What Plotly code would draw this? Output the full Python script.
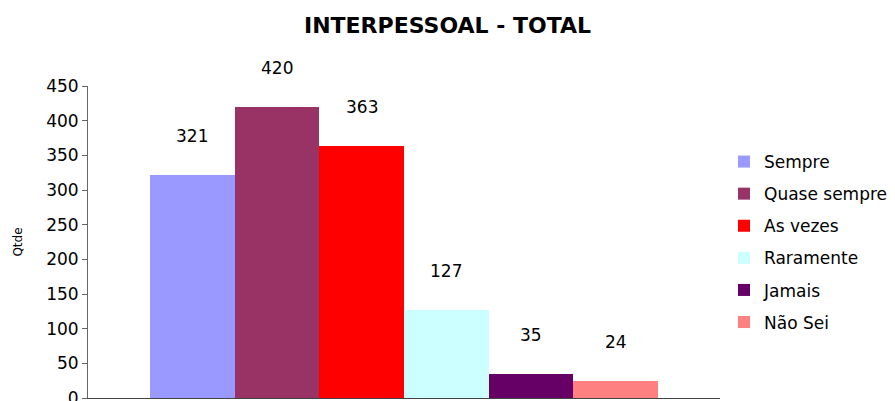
import plotly.graph_objects as go

categories = ["Sempre", "Quase sempre", "As vezes", "Raramente", "Jamais", "Não Sei"]
values = [321, 420, 363, 127, 35, 24]
colors = ["#9999FF", "#993366", "#FF0000", "#CCFFFF", "#660066", "#FF8080"]
title_text = "INTERPESSOAL - TOTAL"
y_title = "Qtde"
y_ticks = [0, 50, 100, 150, 200, 250, 300, 350, 400, 450]

FONT = "DejaVu Sans, Liberation Sans, Arial, sans-serif"

fig = go.Figure()
for i, (name, v, c) in enumerate(zip(categories, values, colors)):
    fig.add_trace(go.Bar(
        x=[i], y=[v], width=[1], name=name, legendgroup=name,
        marker=dict(color=c, line=dict(width=0)),
        hoverinfo="name+y",
    ))
    fig.add_annotation(
        x=i, y=v, text=str(v), showarrow=False, yshift=39,
        xanchor="center", yanchor="middle",
        font=dict(family=FONT, size=17, color="#000000"),
    )

fig.update_layout(
    width=895, height=401,
    margin=dict(l=88, r=174, t=86, b=3),
    paper_bgcolor="white", plot_bgcolor="white",
    barmode="overlay", bargap=0,
    font=dict(family=FONT, size=17, color="#000000"),
    title=dict(text="<b>" + title_text + "</b>", x=0.5, xref="container", xanchor="center",
               y=1 - 25 / 401, yref="container", yanchor="middle",
               font=dict(family=FONT, size=22, color="#000000")),
    legend=dict(x=(724 - 88) / 633, xanchor="left", y=0.5, yanchor="middle",
                font=dict(family=FONT, size=17, color="#000000"),
                tracegroupgap=7, bgcolor="rgba(0,0,0,0)"),
    showlegend=True,
)
fig.update_xaxes(range=[-1.23, 6.23], showticklabels=False, showgrid=False,
                 zeroline=False, showline=True, linecolor="#444444", linewidth=1,
                 ticks="", fixedrange=True)
fig.update_yaxes(range=[0, 450], tickvals=y_ticks, showgrid=False, zeroline=False,
                 showline=True, linecolor="#666666", linewidth=1,
                 ticks="outside", ticklen=5, tickcolor="#666666",
                 ticklabeloverflow="allow",
                 tickfont=dict(family=FONT, size=17, color="#000000"),
                 title=dict(text=y_title, standoff=20, font=dict(family=FONT, size=12)),
                 automargin=False)

fig.write_html("out.html")
